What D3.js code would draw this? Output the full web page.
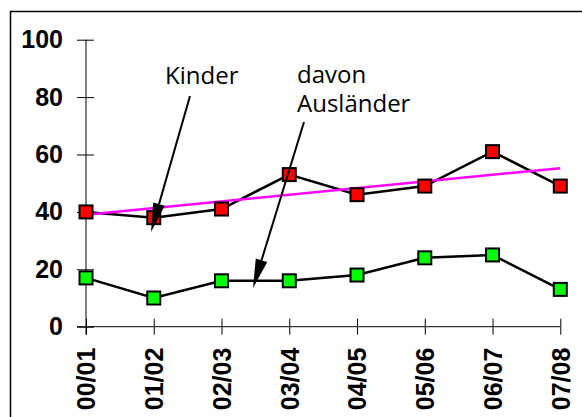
<!DOCTYPE html>
<html>
<head>
<meta charset="utf-8">
<script src="https://cdn.jsdelivr.net/npm/d3@7"></script>
<style>
  body { margin: 0; background: #fff; }
  svg { display: block; }
</style>
</head>
<body>
<script>
// chart data
const years = ['00/01', '01/02', '02/03', '03/04', '04/05', '05/06', '06/07', '07/08'];
const kinder = [40, 38, 41, 53, 46, 49, 61, 49];
const auslaender = [17, 10, 16, 16, 18, 24, 25, 13];
const yTicks = [0, 20, 40, 60, 80, 100];

const W = 582, H = 417;
const svg = d3.select('body').append('svg')
    .attr('width', W)
    .attr('height', H);

// outer frame (bottom edge runs off the picture)
svg.append('rect')
    .attr('x', 10.5).attr('y', 11.5)
    .attr('width', 580).attr('height', 420)
    .attr('fill', 'none').attr('stroke', '#000').attr('stroke-width', 1.5);

const x = d3.scalePoint().domain(years).range([86, 560.3]);
const y = d3.scaleLinear().domain([0, 100]).range([326.7, 39.7]);

const boldFont = '"Liberation Sans", Arial, sans-serif';

// y axis
const yAxis = svg.append('g')
    .attr('transform', 'translate(86,0)')
    .call(d3.axisLeft(y).tickValues(yTicks).tickSize(9).tickSizeOuter(0));
yAxis.select('.domain').remove();
yAxis.selectAll('.tick line').attr('x2', 8).attr('x1', -9).attr('stroke', '#000');
yAxis.selectAll('.tick text')
    .attr('x', -23)
    .attr('font-family', boldFont)
    .attr('font-weight', 'bold')
    .attr('font-size', 25)
    .attr('fill', '#000');
yAxis.append('line')
    .attr('x1', 0).attr('x2', 0)
    .attr('y1', y(100)).attr('y2', y(0) + 8)
    .attr('stroke', '#000');

// x axis
const xAxis = svg.append('g')
    .attr('transform', `translate(0,${y(0)})`)
    .call(d3.axisBottom(x).tickSize(8).tickSizeOuter(0));
xAxis.select('.domain').remove();
xAxis.selectAll('.tick line').attr('y1', -8).attr('y2', 8).attr('stroke', '#000');
xAxis.selectAll('.tick text')
    .attr('transform', 'translate(0,21) rotate(-90)')
    .attr('x', 0).attr('y', 0).attr('dy', '0.35em')
    .attr('text-anchor', 'end')
    .attr('font-family', boldFont)
    .attr('font-weight', 'bold')
    .attr('font-size', 25)
    .attr('fill', '#000');
xAxis.append('line')
    .attr('x1', x(years[0]) - 9).attr('x2', x(years[years.length - 1]))
    .attr('y1', 0).attr('y2', 0)
    .attr('stroke', '#000');

// series lines
const line = d3.line()
    .x((d, i) => x(years[i]))
    .y(d => y(d));

svg.append('path')
    .attr('d', line(auslaender))
    .attr('fill', 'none').attr('stroke', '#000').attr('stroke-width', 2.5);
svg.append('path')
    .attr('d', line(kinder))
    .attr('fill', 'none').attr('stroke', '#000').attr('stroke-width', 2.5);

// linear trend of Kinder
const idx = kinder.map((d, i) => i);
const mx = d3.mean(idx), my = d3.mean(kinder);
const slope = d3.sum(idx, i => (i - mx) * (kinder[i] - my)) / d3.sum(idx, i => (i - mx) ** 2);
const icpt = my - slope * mx;
const last = years.length - 1;
svg.append('line')
    .attr('x1', x(years[0])).attr('y1', y(icpt))
    .attr('x2', x(years[last])).attr('y2', y(icpt + slope * last))
    .attr('stroke', '#ff00ff').attr('stroke-width', 2.5);

// markers
const size = 13;
function markers(data, color) {
  svg.append('g').selectAll('rect')
    .data(data)
    .join('rect')
    .attr('x', (d, i) => x(years[i]) - size / 2)
    .attr('y', d => y(d) - size / 2)
    .attr('width', size).attr('height', size)
    .attr('fill', color)
    .attr('stroke', '#000').attr('stroke-width', 2);
}
markers(kinder, '#ff0000');
markers(auslaender, '#00ff00');

// annotations
const noteFont = '"Open Sans", "Noto Sans", sans-serif';
function note(txt, tx, ty) {
  svg.append('text')
    .attr('x', tx).attr('y', ty)
    .attr('font-family', noteFont)
    .attr('font-size', 24)
    .attr('fill', '#000')
    .text(txt);
}
note('Kinder', 165, 84);
note('davon', 297, 83);
note('Ausländer', 297, 112);

function arrow(x1, y1, x2, y2) {
  const ang = Math.atan2(y2 - y1, x2 - x1);
  const len = 29, half = 6;
  const bx = x2 - len * Math.cos(ang), by = y2 - len * Math.sin(ang);
  svg.append('line')
    .attr('x1', x1).attr('y1', y1).attr('x2', bx).attr('y2', by)
    .attr('stroke', '#000').attr('stroke-width', 2);
  const px = -Math.sin(ang) * half, py = Math.cos(ang) * half;
  svg.append('path')
    .attr('d', `M${x2},${y2}L${bx + px},${by + py}L${bx - px},${by - py}Z`)
    .attr('fill', '#000');
}
arrow(190, 96, 151, 232);
arrow(304, 122, 253, 288);
</script>
</body>
</html>
